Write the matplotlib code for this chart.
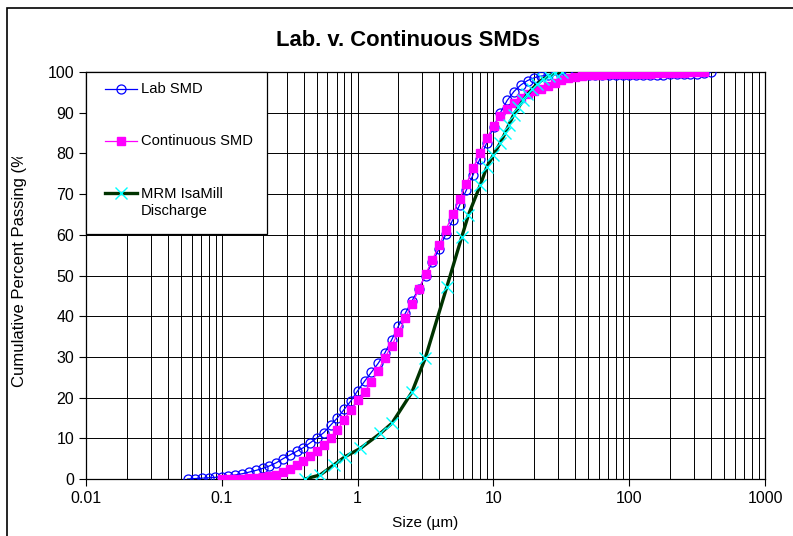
import matplotlib
matplotlib.use("Agg")
import matplotlib.pyplot as plt
from matplotlib.patches import Rectangle
from matplotlib.lines import Line2D
from matplotlib.transforms import Bbox
from matplotlib.ticker import FixedLocator, LogLocator, FuncFormatter

plt.rcParams["font.family"] = ["Liberation Sans", "DejaVu Sans"]

# particle size grid (um) and cumulative % passing
LAB_SIZE = [
    0.056, 0.063, 0.071, 0.080, 0.089,
    0.100, 0.112, 0.126, 0.142, 0.159, 0.178, 0.200, 0.224, 0.252, 0.283,
    0.317, 0.356, 0.399, 0.448, 0.502, 0.564, 0.632, 0.710, 0.796, 0.893,
    1.002, 1.125, 1.262, 1.416, 1.589, 1.783, 2.000, 2.244, 2.518, 2.825,
    3.170, 3.557, 3.991, 4.477, 5.024, 5.637, 6.325, 7.096, 7.962, 8.934,
    10.02, 11.25, 12.62, 14.16, 15.89, 17.83, 20.00, 22.44, 25.18, 28.25,
    31.70, 35.57, 39.91, 44.77, 50.24, 56.37, 63.25, 70.96, 79.62, 89.34,
    100.2, 112.5, 126.2, 141.6, 158.9, 178.3, 200.0, 224.4, 251.8, 282.5,
    317.0, 355.7, 399.1,
]
LAB_PASSING = [
    0.0, 0.1, 0.2, 0.3, 0.4,
    0.6, 0.8, 1.0, 1.3, 1.7, 2.1, 2.6, 3.2, 4.0, 5.0,
    5.9, 6.8, 7.7, 8.9, 10.1, 11.4, 13.2, 15.0, 17.1, 19.2,
    21.7, 24.0, 26.2, 28.4, 31.0, 34.2, 37.6, 40.7, 43.8, 46.8,
    50.0, 53.3, 56.6, 60.2, 63.7, 67.3, 71.0, 74.8, 78.7, 82.6,
    86.5, 90.0, 93.0, 95.2, 96.8, 97.9, 98.6, 99.0, 99.2, 99.3,
    99.3, 99.3, 99.3, 99.2, 99.2, 99.2, 99.2, 99.2, 99.2, 99.2,
    99.2, 99.2, 99.3, 99.3, 99.3, 99.3, 99.4, 99.4, 99.5, 99.5,
    99.6, 99.8, 100.0,
]

CONT_SIZE = [
    0.100, 0.112, 0.126, 0.142, 0.159, 0.178, 0.200, 0.224, 0.252, 0.283,
    0.317, 0.356, 0.399, 0.448, 0.502, 0.564, 0.632, 0.710, 0.796, 0.893,
    1.002, 1.125, 1.262, 1.416, 1.589, 1.783, 2.000, 2.244, 2.518, 2.825,
    3.170, 3.557, 3.991, 4.477, 5.024, 5.637, 6.325, 7.096, 7.962, 8.934,
    10.02, 11.25, 12.62, 14.16, 15.89, 17.83, 20.00, 22.44, 25.18, 28.25,
    31.70, 35.57, 39.91, 44.77, 50.24, 56.37, 63.25, 70.96, 79.62, 89.34,
    100.2, 112.5, 126.2, 141.6, 158.9, 178.3, 200.0, 224.4, 251.8, 282.5,
    317.0, 355.7,
]
CONT_PASSING = [
    0.0, 0.0, 0.05, 0.1, 0.15, 0.25, 0.4, 0.7, 1.1, 1.7,
    2.5, 3.4, 4.5, 5.6, 6.9, 8.3, 10.0, 12.0, 14.6, 17.0,
    19.4, 21.4, 23.8, 26.6, 29.8, 32.8, 36.0, 39.5, 43.0, 46.6,
    50.3, 53.9, 57.5, 61.3, 65.1, 68.8, 72.5, 76.3, 80.2, 83.7,
    86.7, 89.1, 91.0, 92.5, 93.6, 94.5, 95.3, 95.9, 96.6, 97.3,
    98.0, 98.5, 98.8, 99.1, 99.2, 99.3, 99.35, 99.4, 99.45, 99.5,
    99.5, 99.55, 99.6, 99.6, 99.65, 99.7, 99.75, 99.8, 99.85, 99.9,
    100.0, 100.0,
]

MRM_SIZE = [0.41, 0.53, 0.665, 0.81, 1.045, 1.47, 1.79, 2.51, 3.15, 4.54,
            5.85, 6.55, 8.0, 8.95, 10.0, 11.2, 12.2, 13.0, 14.1, 15.3,
            16.5, 17.8, 19.3, 20.9, 23.0, 25.5, 28.5, 32.0]
MRM_PASSING = [0.0, 1.0, 3.4, 5.5, 7.5, 11.2, 13.7, 21.3, 29.7, 47.2,
               59.5, 64.9, 72.2, 76.7, 79.6, 82.5, 85.0, 87.0, 89.5, 91.3,
               93.0, 94.5, 95.8, 97.0, 98.2, 99.0, 99.7, 100.0]

X_TICKS = [0.01, 0.1, 1, 10, 100, 1000]
Y_TICKS = [0, 10, 20, 30, 40, 50, 60, 70, 80, 90, 100]

W, H = 793, 536
FS = 10.6        # legend text
TICK_FS = 11.5   # tick labels

fig = plt.figure(figsize=(W / 100, H / 100), dpi=100)
ax = fig.add_axes([86 / W, 1 - 479 / H, (765 - 86) / W, (479 - 72) / H])

# outer chart-area border (cut off at right and bottom like the original)
fig.patches.append(Rectangle((7 / W, -0.1), 1.2, 1 - 8 / H + 0.1,
                             transform=fig.transFigure, fill=False,
                             edgecolor="black", lw=1.2))

ax.plot(LAB_SIZE, LAB_PASSING, color="#0000FF", lw=0.9, marker="o",
        markersize=6.5, markerfacecolor="none", markeredgecolor="#0000FF",
        markeredgewidth=0.9, zorder=3)
ax.plot(CONT_SIZE, CONT_PASSING, color="#FF00FF", lw=0.9, marker="s",
        markersize=5.2, markerfacecolor="#FF00FF", markeredgecolor="#FF00FF",
        zorder=4)
ax.plot(MRM_SIZE, MRM_PASSING, color="#003300", lw=2.4, zorder=5)
ax.plot(MRM_SIZE, MRM_PASSING, ls="none", marker="x", markersize=8,
        markeredgecolor="#00FFFF", markeredgewidth=1.0, zorder=6)

ax.set_xscale("log")
ax.set_xlim(0.01, 1000)
ax.set_ylim(0, 100)
ax.xaxis.set_major_locator(FixedLocator(X_TICKS))
ax.xaxis.set_major_formatter(FuncFormatter(lambda v, p: f"{v:g}"))
ax.xaxis.set_minor_locator(LogLocator(base=10, subs=[2, 3, 4, 5, 6, 7, 8, 9]))
ax.yaxis.set_major_locator(FixedLocator(Y_TICKS))

ax.tick_params(which="major", direction="out", length=5, width=0.8,
               labelsize=TICK_FS, pad=3.5, colors="black")
ax.tick_params(which="minor", length=0)
ax.grid(True, which="both", axis="x", color="black", lw=0.7)
ax.grid(True, which="major", axis="y", color="black", lw=0.7)
ax.set_axisbelow(True)
for s in ax.spines.values():
    s.set_linewidth(0.9)
    s.set_color("black")

# title, axis labels
fig.text(407.5 / W, 1 - 40 / H, "Lab. v. Continuous SMDs", ha="center",
         va="center", fontsize=15.8, fontweight="bold")
fig.text(425.5 / W, 1 - 523 / H, "Size (\u00b5m)", ha="center", va="center",
         fontsize=11.1)
ylab = fig.text(20 / W, 1 - 267 / H, "Cumulative Percent Passing (%)",
                ha="center", va="center", rotation=90, fontsize=12)
# the original label is cut off near its top end
ylab.set_clip_box(Bbox([[0, 0], [W, H - 157]]))
ylab.set_clip_on(True)

# legend drawn by hand to match the boxed layout
def ax_x(px):
    return (px - 86) / (765 - 86)


def ax_y(py):
    return (479 - py) / (479 - 72)


ax.add_patch(Rectangle((0, ax_y(234)), ax_x(267), 1 - ax_y(234),
                       transform=ax.transAxes, facecolor="white",
                       edgecolor="black", lw=0.9, zorder=10, clip_on=False))

entries = [
    (89, dict(color="#0000FF", lw=0.9), dict(marker="o", markersize=6.5,
     markerfacecolor="none", markeredgecolor="#0000FF", markeredgewidth=0.9),
     "Lab SMD", 89),
    (141, dict(color="#FF00FF", lw=0.9), dict(marker="s", markersize=5.2,
     markerfacecolor="#FF00FF", markeredgecolor="#FF00FF"),
     "Continuous SMD", 141),
    (193, dict(color="#003300", lw=2.4), dict(marker="x", markersize=8,
     markeredgecolor="#00FFFF", markeredgewidth=1.0),
     "MRM IsaMill\nDischarge", 202.5),
]
for ypx, line_kw, mark_kw, label, text_y in entries:
    ax.add_line(Line2D([ax_x(105), ax_x(137)], [ax_y(ypx)] * 2,
                       transform=ax.transAxes, zorder=11, clip_on=False,
                       **line_kw))
    ax.add_line(Line2D([ax_x(121)], [ax_y(ypx)], transform=ax.transAxes,
                       ls="none", zorder=12, clip_on=False, **mark_kw))
    ax.text(ax_x(141), ax_y(text_y), label, transform=ax.transAxes,
            ha="left", va="center", fontsize=FS, linespacing=1.35, zorder=12)

fig.savefig("out.png", dpi=100, facecolor="white")
